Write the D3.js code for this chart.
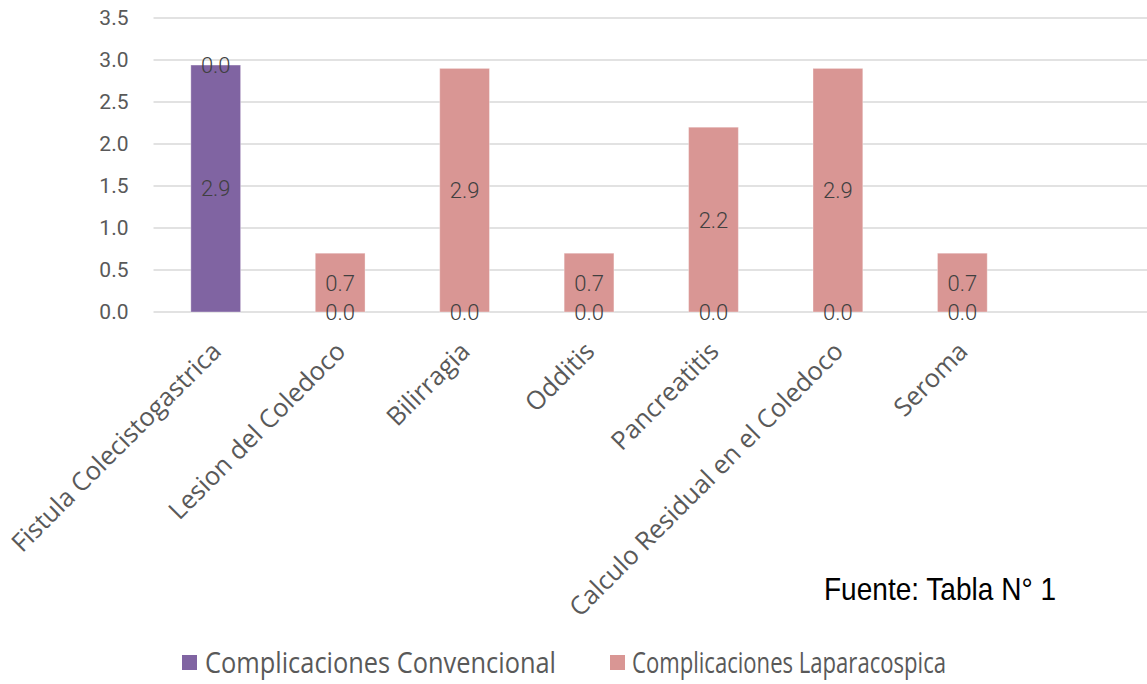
<!DOCTYPE html>
<html>
<head>
<meta charset="utf-8">
<script src="https://cdn.jsdelivr.net/npm/d3@7"></script>
<style>
  body { margin: 0; background: #fff; }
  svg { display: block; }
</style>
</head>
<body>
<svg id="chart"></svg>
<script>
// -- DATA --
const categories = [
  "Fistula Colecistogastrica",
  "Lesion del Coledoco",
  "Bilirragia",
  "Odditis",
  "Pancreatitis",
  "Calculo Residual en el Coledoco",
  "Seroma",
  "" // empty slot at the end of the axis
];
const convencional = [2.94, 0, 0, 0, 0, 0, 0, null];
const laparacospica = [0, 0.7, 2.9, 0.7, 2.2, 2.9, 0.7, null];
const seriesNames = ["Complicaciones Convencional", "Complicaciones Laparacospica"];
const yTicks = [0, 0.5, 1, 1.5, 2, 2.5, 3, 3.5];
const sourceNote = "Fuente: Tabla N° 1";

// -- SIZES --
const width = 1147, height = 684;
const plot = { left: 153.5, right: 1149, top: 18, bottom: 312 };
const colors = ["#8064A2", "#D99694"];

const svg = d3.select("#chart").attr("width", width).attr("height", height);

// scales
const x = d3.scaleBand().domain(d3.range(categories.length))
  .range([plot.left, plot.right]).paddingInner(0.6).paddingOuter(0.3);
const band = d3.scaleBand().domain(d3.range(categories.length))
  .range([plot.left, plot.right]);
const y = d3.scaleLinear().domain([0, 3.5]).range([plot.bottom, plot.top]);

// gridlines
svg.append("g")
  .selectAll("line")
  .data(yTicks)
  .join("line")
  .attr("x1", plot.left).attr("x2", plot.right)
  .attr("y1", d => y(d)).attr("y2", d => y(d))
  .style("stroke", "#d9d9d9").style("stroke-width", 1.5);

// y axis labels
const yAxis = svg.append("g")
  .attr("transform", `translate(${plot.left - 22},0)`)
  .call(d3.axisLeft(y).tickValues(yTicks).tickFormat(d3.format(".1f")).tickSize(0));
yAxis.select(".domain").remove();
yAxis.selectAll("text")
  .style("font-family", "Roboto, sans-serif")
  .style("font-size", "21px")
  .style("fill", "#595959");

// stacked data
const rows = categories.map((c, i) => ({ i, conv: convencional[i] || 0, lap: laparacospica[i] || 0 }));
const stacked = d3.stack().keys(["conv", "lap"])(rows);

const layers = svg.append("g")
  .selectAll("g")
  .data(stacked)
  .join("g")
  .style("fill", (d, k) => colors[k]);

layers.selectAll("rect")
  .data(d => d.filter(p => categories[p.data.i] !== ""))
  .join("rect")
  .attr("x", p => x(p.data.i))
  .attr("width", x.bandwidth())
  .attr("y", p => y(p[1]))
  .attr("height", p => y(p[0]) - y(p[1]))
  .style("stroke", "rgba(255,255,255,0.35)")
  .style("stroke-width", 1);

// data labels (zero values too)
const labelG = svg.append("g");
stacked.forEach(layer => {
  layer.filter(p => categories[p.data.i] !== "").forEach(p => {
    labelG.append("text")
      .attr("x", x(p.data.i) + x.bandwidth() / 2)
      .attr("y", y((p[0] + p[1]) / 2))
      .attr("dy", "0.36em")
      .attr("text-anchor", "middle")
      .style("font-family", "Roboto, sans-serif")
      .style("font-size", "22px")
      .style("font-weight", 300)
      .style("fill", "#404040")
      .text(d3.format(".1f")(p[1] - p[0]));
  });
});

// category labels, rotated
svg.append("g")
  .selectAll("text")
  .data(categories)
  .join("text")
  .attr("transform", (d, i) => `translate(${band(i) + band.bandwidth() / 2 + 7},${plot.bottom + 41}) rotate(-45)`)
  .attr("text-anchor", "end")
  .style("font-family", "'Open Sans', sans-serif")
  .style("font-size", "25.5px")
  .style("fill", "#595959")
  .text(d => d);

// source note
svg.append("text")
  .attr("x", 824).attr("y", 600)
  .attr("textLength", 232).attr("lengthAdjust", "spacingAndGlyphs")
  .style("font-family", "'Liberation Sans', Arial, sans-serif")
  .style("font-size", "32px")
  .style("fill", "#000")
  .text(sourceNote);

// legend
const legendPos = [{ sx: 182, tx: 205, tw: 351 }, { sx: 610, tx: 632, tw: 314 }];
const legend = svg.append("g")
  .selectAll("g")
  .data(seriesNames)
  .join("g");
legend.append("rect")
  .attr("x", (d, k) => legendPos[k].sx)
  .attr("y", 655)
  .attr("width", 15).attr("height", 15)
  .style("fill", (d, k) => colors[k]);
legend.append("text")
  .attr("x", (d, k) => legendPos[k].tx)
  .attr("y", 673)
  .attr("textLength", (d, k) => legendPos[k].tw)
  .attr("lengthAdjust", "spacingAndGlyphs")
  .style("font-family", "'Open Sans', sans-serif")
  .style("font-size", "29px")
  .style("fill", "#595959")
  .text(d => d);
</script>
</body>
</html>
